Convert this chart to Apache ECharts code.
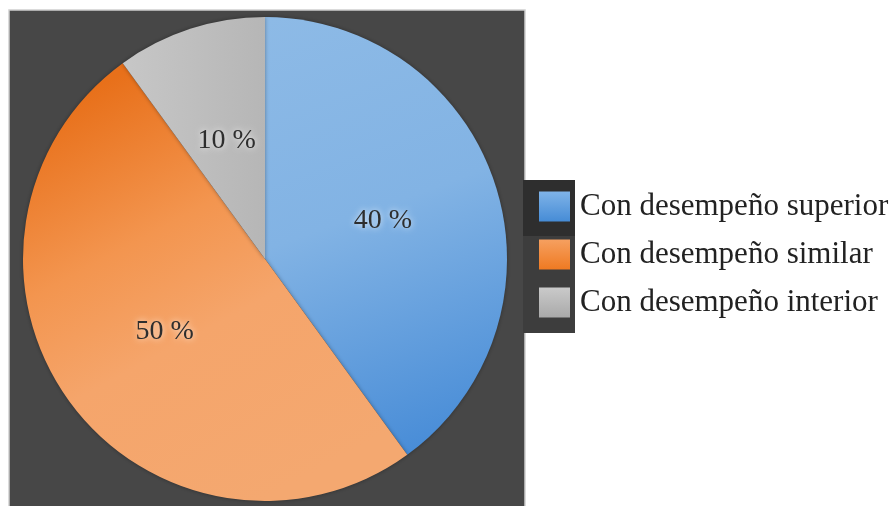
<!DOCTYPE html>
<html>
<head>
<meta charset="utf-8">
<script src="https://cdn.jsdelivr.net/npm/echarts@6/dist/echarts.min.js"></script>
<style>
html,body{margin:0;padding:0;background:#fff;}
#c{width:894px;height:506px;}
</style>
</head>
<body>
<div id="c"></div>
<script>
const categories = ['Con desempeño superior', 'Con desempeño similar', 'Con desempeño interior'];
const values = [40, 50, 10];
const labels = ['40 %', '50 %', '10 %'];

const sliceColors = [
  {type:'linear', x:265, y:20, x2:430, y2:470, global:true,
   colorStops:[{offset:0,color:'#8dbae6'},{offset:0.45,color:'#82b3e4'},{offset:1,color:'#4389d6'}]},
  {type:'linear', x:90, y:90, x2:300, y2:480, global:true,
   colorStops:[{offset:0,color:'#e8701a'},{offset:0.35,color:'#f3954f'},{offset:0.6,color:'#f5a56b'},{offset:1,color:'#f4a870'}]},
  {type:'linear', x:130, y:60, x2:265, y2:60, global:true,
   colorStops:[{offset:0,color:'#c6c6c6'},{offset:1,color:'#b6b6b6'}]}
];
const legendColors = [
  {type:'linear', x:0, y:0, x2:0, y2:1, colorStops:[{offset:0,color:'#7fb3e8'},{offset:1,color:'#468cd6'}]},
  {type:'linear', x:0, y:0, x2:0, y2:1, colorStops:[{offset:0,color:'#f6a060'},{offset:1,color:'#ef7a22'}]},
  {type:'linear', x:0, y:0, x2:0, y2:1, colorStops:[{offset:0,color:'#cacaca'},{offset:1,color:'#a9a9a9'}]}
];

const chart = echarts.init(document.getElementById('c'), null, {renderer:'canvas'});
chart.setOption({
  backgroundColor:'#ffffff',
  animation:false,
  graphic:[
    {type:'rect', z:-10, shape:{x:9, y:10, width:516, height:500},
     style:{fill:'#474747', stroke:'#cfcfcf', lineWidth:1.5}},
    {type:'rect', z:-9, shape:{x:523, y:180, width:52, height:153},
     style:{fill:'#3d3d3d'}},
    {type:'rect', z:-8, shape:{x:523, y:180, width:52, height:56},
     style:{fill:'#2e2e2e'}}
  ],
  legend:{
    orient:'vertical',
    left:534, top:186,
    itemWidth:31, itemHeight:30, itemGap:17,
    icon:'rect',
    textStyle:{fontFamily:'Liberation Serif', fontSize:31, color:'#222', padding:[0,0,0,5]},
    data: categories.map((n,i)=>({name:n, itemStyle:{color:legendColors[i]}}))
  },
  series:[{
    type:'pie',
    center:[265,259],
    radius:242,
    startAngle:90,
    clockwise:true,
    avoidLabelOverlap:false,
    emphasis:{disabled:true},
    label:{
      show:true, position:'inside',
      formatter:(p)=>labels[p.dataIndex],
      fontFamily:'Liberation Serif', fontSize:28, color:'#2e2e2e',
      textShadowColor:'rgba(255,255,255,0.9)', textShadowBlur:6
    },
    labelLine:{show:false},
    itemStyle:{borderWidth:0, shadowColor:'rgba(0,0,0,0.35)', shadowBlur:4},
    data: categories.map((n,i)=>({name:n, value:values[i], itemStyle:{color:sliceColors[i]}}))
  }]
});
</script>
</body>
</html>
